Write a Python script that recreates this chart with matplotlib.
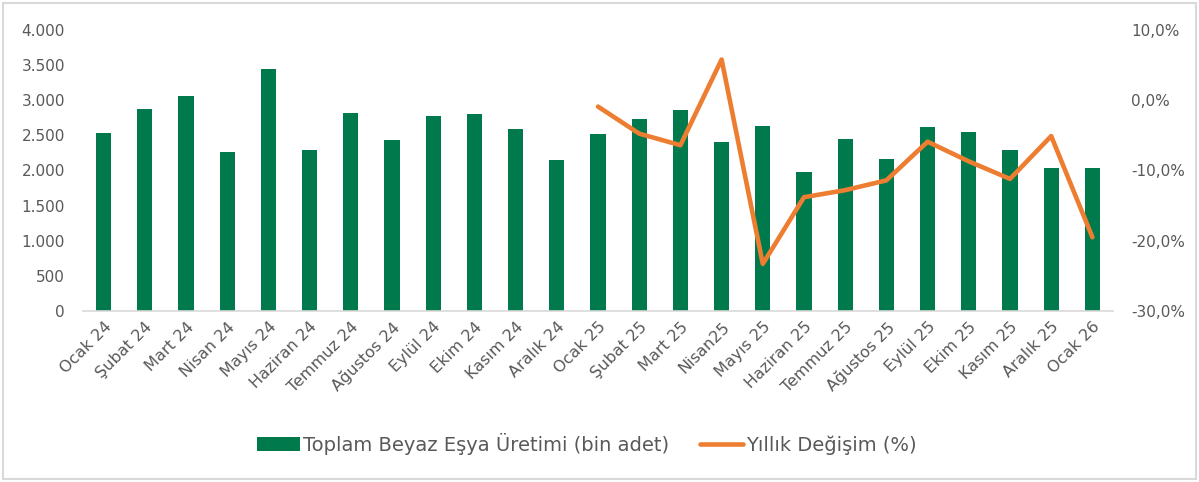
import matplotlib
matplotlib.use("Agg")
import matplotlib.pyplot as plt
from matplotlib.patches import Rectangle
from matplotlib.ticker import FuncFormatter

plt.rcParams["font.family"] = ["DejaVu Sans"]

months = ["Ocak 24", "Şubat 24", "Mart 24", "Nisan 24", "Mayıs 24", "Haziran 24",
          "Temmuz 24", "Ağustos 24", "Eylül 24", "Ekim 24", "Kasım 24", "Aralık 24",
          "Ocak 25", "Şubat 25", "Mart 25", "Nisan25", "Mayıs 25", "Haziran 25",
          "Temmuz 25", "Ağustos 25", "Eylül 25", "Ekim 25", "Kasım 25", "Aralık 25",
          "Ocak 26"]
production = [2531, 2880, 3061, 2268, 3440, 2287, 2814, 2434, 2780, 2800, 2586, 2154,
              2515, 2733, 2865, 2401, 2629, 1974, 2453, 2168, 2615, 2548, 2296, 2036,
              2036]
# yearly change starts at Ocak 25 (index 12)
change_start = 12
yearly_change = [-0.9, -4.75, -6.4, 5.8, -23.3, -13.8, -12.8, -11.4, -5.9, -8.7,
                 -11.2, -5.1, -19.5]

GREEN = "#007A4D"
ORANGE = "#ED7D31"
TXT = "#595959"

fig = plt.figure(figsize=(11.99, 4.82), dpi=100)
ax = fig.add_axes([83 / 1199, 1 - 311 / 482, 1030 / 1199, 281 / 482])
x = list(range(len(months)))
bars = ax.bar(x, production, width=0.37, color=GREEN, label="Toplam Beyaz Eşya Üretimi (bin adet)")
ax.set_xlim(-0.5, len(months) - 0.5)
ax.set_ylim(0, 4000)
ax.set_yticks(range(0, 4001, 500))
ax.yaxis.set_major_formatter(FuncFormatter(lambda v, p: f"{int(v):,}".replace(",", ".")))
ax.set_xticks(x)
ax.set_xticklabels(months, rotation=45, ha="right", rotation_mode="anchor")
for s in ["top", "right", "left"]:
    ax.spines[s].set_visible(False)
ax.spines["bottom"].set_color("#d9d9d9")
ax.spines["bottom"].set_linewidth(1.2)
ax.tick_params(axis="y", length=0, labelsize=11, colors=TXT, pad=13)
ax.tick_params(axis="x", length=0, labelsize=11.5, colors=TXT, pad=6)

ax2 = ax.twinx()
lx = x[change_start:change_start + len(yearly_change)]
line, = ax2.plot(lx, yearly_change, color=ORANGE, lw=3.3, solid_capstyle="round",
                 solid_joinstyle="round", label="Yıllık Değişim (%)")
ax2.set_ylim(-30, 10)
ax2.set_yticks(range(-30, 11, 10))
ax2.yaxis.set_major_formatter(FuncFormatter(lambda v, p: f"{v:.1f}%".replace(".", ",")))
for s in ["top", "right", "left", "bottom"]:
    ax2.spines[s].set_visible(False)
ax2.tick_params(axis="y", length=0, labelsize=11, colors=TXT, pad=13)

fig.legend([bars, line], [bars.get_label(), line.get_label()], loc="center",
           bbox_to_anchor=(587 / 1199, 1 - 444 / 482), ncol=2, frameon=False,
           fontsize=14, labelcolor=TXT, handlelength=2.2, handleheight=0.7,
           handletextpad=0.15, columnspacing=1.6)

fig.patches.append(Rectangle((3 / 1199, 3 / 482), 1193 / 1199, 476 / 482,
                             transform=fig.transFigure, fill=False,
                             edgecolor="#d9d9d9", lw=1.5))
fig.savefig("out.png", dpi=100, facecolor="white")
